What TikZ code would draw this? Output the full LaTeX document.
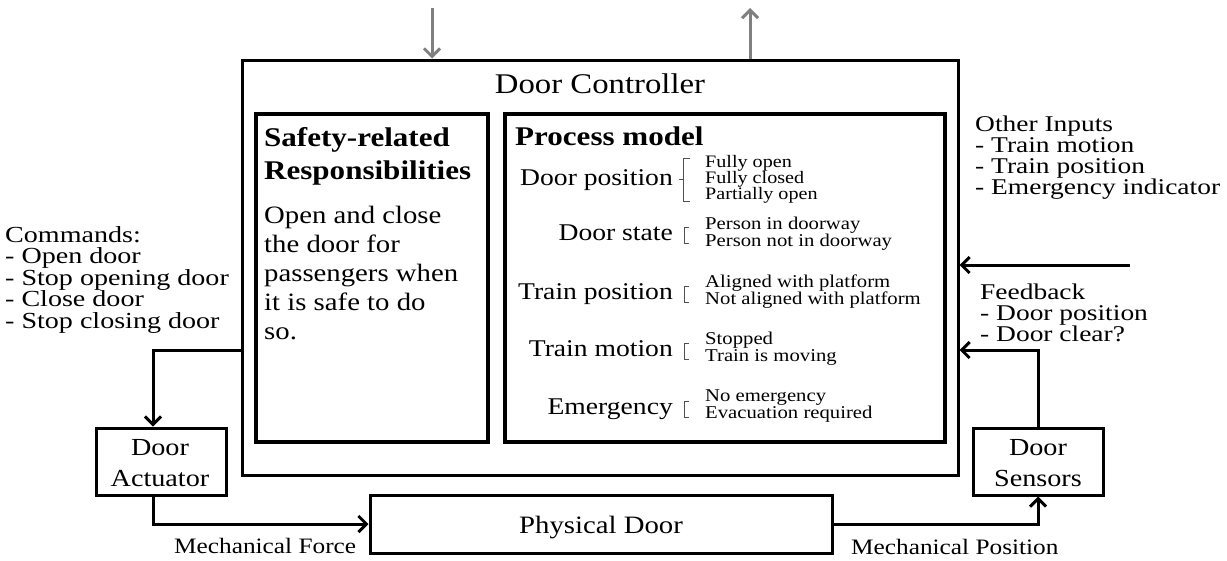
\documentclass[tikz,border=0pt]{standalone}
\usepackage{fontspec}
\setmainfont{Liberation Serif}[FakeStretch=1.15]
\newfontfamily\sidefont{Liberation Serif}[FakeStretch=1.22]
\usetikzlibrary{arrows.meta}
\definecolor{extgray}{HTML}{808080}
\definecolor{brkgray}{HTML}{505050}
\newcommand\fsz[2]{\fontsize{#1}{#2}\selectfont}

\begin{document}
\begin{tikzpicture}[x=1pt,y=-1pt,
  box/.style={draw=black, line width=3pt, inner sep=0pt},
  panel/.style={draw=black, line width=3.5pt, inner sep=0pt},
  txt/.style={inner sep=0pt, text=black},
  side/.style={txt, anchor=base west, font=\sidefont\fsz{22.5}{22.5}},
  rowlbl/.style={txt, anchor=base east, font=\fsz{24}{24}},
  item/.style={txt, anchor=base west, font=\fsz{18}{18}},
  flow/.style={line width=3pt, -{Straight Barb[length=8pt,width=16pt]}},
  ext/.style={flow, draw=extgray},
  brk/.style={draw=brkgray, line width=1pt},
]
\fill[white] (0,0) rectangle (1227,560);
\path[use as bounding box] (0,0) rectangle (1227,560);

% ---- boxes ----
\node[box, minimum width=716pt, minimum height=415pt] (ctrl) at (600,267.5) {};
\node[panel, minimum width=232pt, minimum height=328pt] (safety) at (372,278) {};
\node[panel, minimum width=440pt, minimum height=328pt] (model) at (725,278) {};
\node[box, minimum width=130pt, minimum height=67pt] (act) at (161,461.5) {};
\node[box, minimum width=130pt, minimum height=67pt] (sens) at (1038,461.5) {};
\node[box, minimum width=462pt, minimum height=58pt] (door) at (601,524) {};

% ---- box titles ----
\node[txt, anchor=base, font=\fsz{28.5}{28.5}] (ctrltitle) at (600,93) {Door Controller};
\node[txt, anchor=base, font=\fsz{25}{25}] (doortitle) at (601,533) {Physical Door};
\node[txt, anchor=base, font=\fsz{24.5}{24.5}] (act1) at (160,455) {Door};
\node[txt, anchor=base, font=\fsz{24.5}{24.5}] (act2) at (160,486) {Actuator};
\node[txt, anchor=base, font=\fsz{24.5}{24.5}] (sens1) at (1038,455) {Door};
\node[txt, anchor=base, font=\fsz{24.5}{24.5}] (sens2) at (1038,486) {Sensors};

% ---- safety-related responsibilities ----
\node[txt, anchor=base west, font=\fsz{27}{27}\bfseries] (saf1) at (264,146) {Safety-related};
\node[txt, anchor=base west, font=\fsz{27}{27}\bfseries] (saf2) at (264,179) {Responsibilities};
\foreach \t [count=\i] in {Open and close, the door for, passengers when, it is safe to do, so.}
  \node[txt, anchor=base west, font=\fsz{25}{25}] (resp\i) at (264,{223+29*(\i-1)}) {\t};

% ---- process model ----
\node[txt, anchor=base west, font=\fsz{27}{27}\bfseries] (pmtitle) at (515,145) {Process model};

\node[rowlbl] (dp) at (673,185) {Door position};
\draw[brk] (690,158) -- (683,158) -- (683,201) -- (690,201);
\draw[brk] (683,179.5) -- (679,179.5);
\node[item, font=\fsz{17.5}{17.5}] (dp1) at (705,167) {Fully open};
\node[item, font=\fsz{17.5}{17.5}] (dp2) at (705,183.2) {Fully closed};
\node[item, font=\fsz{17.5}{17.5}] (dp3) at (705,199.4) {Partially open};

\node[rowlbl] (ds) at (673,240) {Door state};
\draw[brk] (689,227) -- (684,227) -- (684,243) -- (689,243);
\node[item] (ds1) at (705,229) {Person in doorway};
\node[item] (ds2) at (705,246.5) {Person not in doorway};

\node[rowlbl] (tp) at (673,299) {Train position};
\draw[brk] (689,286) -- (684,286) -- (684,302) -- (689,302);
\node[item] (tp1) at (705,287) {Aligned with platform};
\node[item] (tp2) at (705,304.5) {Not aligned with platform};

\node[rowlbl] (tm) at (673,356) {Train motion};
\draw[brk] (689,343) -- (684,343) -- (684,359) -- (689,359);
\node[item] (tm1) at (705,344) {Stopped};
\node[item] (tm2) at (705,361.5) {Train is moving};

\node[rowlbl] (em) at (673,414) {Emergency};
\draw[brk] (689,401) -- (684,401) -- (684,417) -- (689,417);
\node[item] (em1) at (705,401) {No emergency};
\node[item] (em2) at (705,418) {Evacuation required};

% ---- side texts ----
\foreach \t [count=\i] in {Commands:, - Open door, - Stop opening door, - Close door, - Stop closing door}
  \node[side, font=\sidefont\fsz{23}{23}] (cmd\i) at (5,{242+21.5*(\i-1)}) {\t};
\foreach \t [count=\i] in {Other Inputs, - Train motion, - Train position, - Emergency indicator}
  \node[side] (oin\i) at (975,{131+21*(\i-1)}) {\t};
\foreach \t [count=\i] in {Feedback, - Door position, - Door clear?}
  \node[side] (fb\i) at (980,{299+21*(\i-1)}) {\t};
\node[txt, anchor=base west, font=\fsz{22}{22}] (mforce) at (174,553) {Mechanical Force};
\node[txt, anchor=base west, font=\fsz{22}{22}] (mpos) at (851,554) {Mechanical Position};

% ---- connectors ----
\coordinate (ax) at (153,0);
\coordinate (cmdy) at (0,350);
\coordinate (fby) at (0,350);
\coordinate (oisrc) at (1130,265);
\coordinate (topin) at (432,8);
\coordinate (topout) at (750,8);

\draw[flow] (ctrl.west |- cmdy) -| (act.north -| ax);
\draw[flow] (act.south -| ax) |- (door.west);
\draw[flow] (door.east) -| (sens.south);
\draw[flow] (sens.north) |- (ctrl.east |- fby);
\draw[flow] (oisrc) -- (ctrl.east |- oisrc);
\draw[ext] (topin) -- (ctrl.north -| topin);
\draw[ext] (ctrl.north -| topout) -- (topout);
\end{tikzpicture}
\end{document}
